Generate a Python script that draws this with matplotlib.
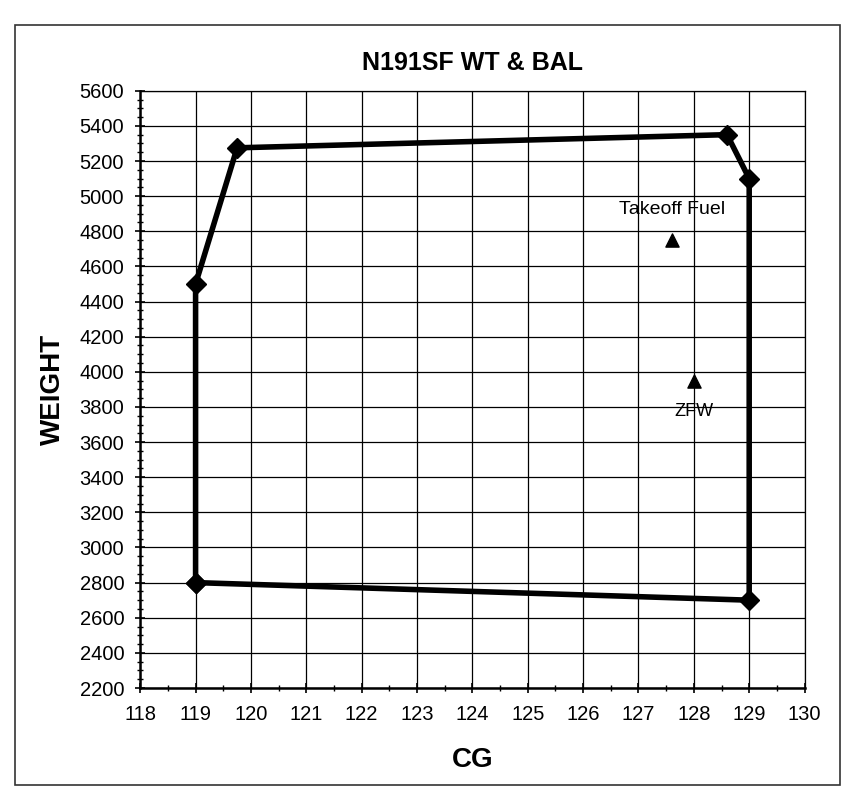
import numpy as np
import matplotlib.pyplot as plt
from matplotlib.patches import Rectangle
from matplotlib.ticker import MultipleLocator

plt.rcParams['font.family'] = ['Liberation Sans', 'DejaVu Sans']

# Enveloppe de centrage (CG, poids)
env_cg = [119.0, 119.0, 119.75, 128.6, 129.0, 129.0, 119.0]
env_wt = [2800, 4500, 5275, 5350, 5100, 2700, 2800]

# Points de chargement
pt_noms = ['Takeoff Fuel', 'ZFW']
pt_cg = [127.6, 128.0]
pt_wt = [4750, 3950]

fig = plt.figure(figsize=(8.55, 7.89), dpi=100)
ax = fig.add_axes([0.164, 0.128, 0.777, 0.757])

# cadre de la zone graphique
fig.patches.append(Rectangle((0.018, 0.005), 0.964, 0.963, transform=fig.transFigure,
                             fill=False, edgecolor='#333333', linewidth=1.2))

ax.plot(env_cg, env_wt, color='black', linewidth=4, marker='D', markersize=10,
        solid_joinstyle='miter', zorder=3)
ax.scatter(pt_cg, pt_wt, marker='^', s=90, color='black', zorder=4)

ax.annotate(pt_noms[0], (pt_cg[0], pt_wt[0]), xytext=(0, 22), textcoords='offset points',
            ha='center', va='center', fontsize=14)
ax.annotate(pt_noms[1], (pt_cg[1], pt_wt[1]), xytext=(0, -22), textcoords='offset points',
            ha='center', va='center', fontsize=13)

ax.set_xlim(118, 130)
ax.set_ylim(2200, 5600)
ax.xaxis.set_major_locator(MultipleLocator(1))
ax.xaxis.set_minor_locator(MultipleLocator(0.5))
ax.yaxis.set_major_locator(MultipleLocator(200))
ax.yaxis.set_minor_locator(MultipleLocator(50))
ax.grid(True, which='major', color='black', linewidth=0.9)
ax.tick_params(which='major', direction='inout', length=7, width=1.2, labelsize=14.5)
ax.tick_params(axis='x', which='major', pad=9)
ax.tick_params(axis='y', which='major', pad=8)
ax.tick_params(which='minor', direction='inout', length=4, width=1)
for s in ['right', 'top']:
    ax.spines[s].set_linewidth(0.9)
for s in ['left', 'bottom']:
    ax.spines[s].set_linewidth(1.8)

ax.set_title('N191SF WT & BAL', fontsize=18, fontweight='bold', pad=15)
ax.set_xlabel('CG', fontsize=20, fontweight='bold', labelpad=16)
ax.set_ylabel('WEIGHT', fontsize=20, fontweight='bold', labelpad=10)

fig.savefig('out.png', dpi=100)
